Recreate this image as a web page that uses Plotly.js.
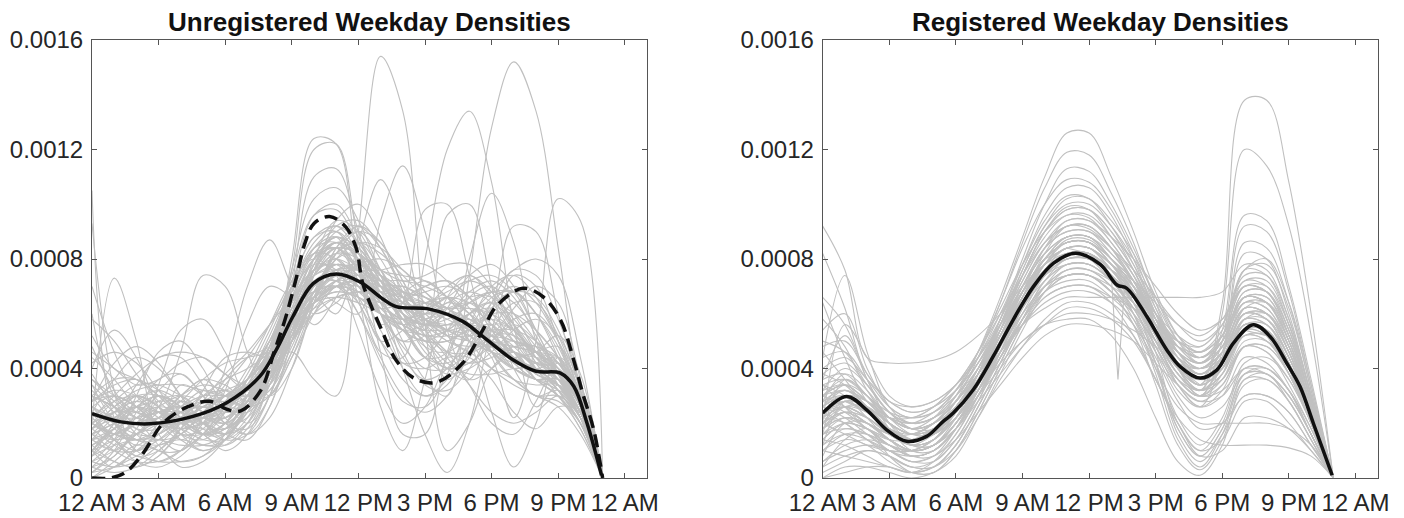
<!DOCTYPE html>
<html><head><meta charset="utf-8">
<script src="https://cdn.plot.ly/plotly-3.0.1.min.js"></script>
<style>html,body{margin:0;padding:0;background:#fff}#chart{width:1404px;height:518px}</style>
</head><body><div id="chart"></div>
<script>
// Time of day in hours
const hours = [0,1,2,3,4,5,6,7,8,9,10,11,12,13,14,15,16,17,18,19,20,21,22,23];
const tickHours = [0,3,6,9,12,15,18,21,24];
const tickLabels = ['12 AM','3 AM','6 AM','9 AM','12 PM','3 PM','6 PM','9 PM','12 AM'];
const yTicks = [0,0.0004,0.0008,0.0012,0.0016];
const yTickLabels = ['0','0.0004','0.0008','0.0012','0.0016'];
const UNIT = 1e-4; // density values below are in units of 1e-4

const titleLeft = 'Unregistered Weekday Densities';
const titleRight = 'Registered Weekday Densities';

// Unregistered: individual day densities (values at each hour, x1e-4)
const unregCurves = [
 [10.5,2.2,1.2,2.0,2.8,2.4,1.8,2.6,4.4,6.6,8.0,8.4,7.6,6.6,6.0,5.6,5.8,6.2,5.6,4.6,3.8,3.4,2.4,0],
 [9.3,3.2,1.0,1.8,3.4,3.0,2.0,2.2,3.6,5.6,7.4,8.0,7.2,6.8,7.0,6.4,5.2,4.6,5.0,5.6,5.0,4.0,2.6,0],
 [7.0,4.6,3.0,2.4,3.0,3.6,3.0,2.6,3.0,4.6,6.6,7.8,7.4,6.2,5.6,6.0,6.6,6.0,5.0,4.2,3.6,3.8,3.0,0],
 [6.0,3.0,2.4,3.2,3.8,3.0,2.0,1.6,2.6,5.0,7.6,8.6,8.0,6.6,5.4,5.0,5.4,5.8,5.2,4.2,3.6,3.6,2.6,0],
 [5.2,4.0,3.6,3.0,2.2,1.6,1.8,3.0,4.6,6.0,7.0,7.6,7.8,7.4,6.6,5.8,5.2,5.0,4.8,4.6,4.2,4.0,2.8,0],
 [2.0,7.3,5.0,1.6,1.0,2.0,3.0,3.4,4.0,5.0,6.0,7.0,7.0,6.6,6.8,7.2,6.6,5.6,4.6,4.0,4.2,4.4,3.0,0],
 [1.6,2.0,2.6,2.0,1.4,2.0,4.0,7.0,8.7,7.0,5.6,6.6,8.0,7.6,6.0,5.0,5.0,5.4,5.0,4.0,3.6,3.6,2.4,0],
 [3.0,2.6,2.0,2.6,4.6,7.4,7.0,4.6,3.0,4.0,6.4,8.4,9.0,8.0,6.6,5.6,5.0,4.6,4.0,3.6,3.0,3.0,2.2,0],
 [0.6,1.4,3.0,4.6,5.0,4.0,2.6,2.4,3.4,5.0,6.4,7.0,6.8,6.4,6.6,7.0,7.2,6.6,5.4,4.4,4.0,4.2,3.2,0],
 [1.0,0.4,1.2,3.4,5.4,5.8,4.6,3.0,3.0,4.4,6.0,7.2,7.4,6.8,6.2,6.0,6.4,6.8,6.4,5.2,4.0,3.2,2.0,0],
 [4.0,5.4,4.4,2.6,1.6,1.8,3.2,5.6,7.0,6.6,6.0,6.4,7.2,7.4,6.8,6.0,5.4,5.0,4.6,4.4,4.6,4.8,3.4,0],
 [2.4,3.6,4.4,4.0,3.0,2.0,1.6,2.6,4.8,7.0,8.2,8.0,7.0,6.0,5.6,5.8,6.2,6.4,6.0,5.0,4.0,3.4,2.4,0],
 [2.0,1.4,1.0,1.4,2.0,1.6,1.0,1.6,3.6,8.0,12.4,12.2,7.6,5.0,5.4,6.4,6.0,5.0,4.0,3.4,3.0,2.6,1.6,0],
 [1.0,2.0,3.0,2.6,1.6,1.0,1.4,2.6,4.0,7.6,12.0,12.2,8.6,6.0,5.0,5.6,6.4,6.0,4.6,3.6,3.0,2.8,2.0,0],
 [2.6,3.0,2.6,2.0,2.0,2.4,2.6,2.0,3.0,7.0,11.0,11.3,9.0,6.6,5.4,5.0,5.0,5.4,5.6,4.6,3.6,3.0,2.0,0],
 [1.4,1.0,1.6,2.4,2.6,2.0,1.6,2.4,4.4,7.6,10.2,10.6,9.4,7.6,6.4,6.0,6.0,5.6,4.8,4.0,3.6,3.2,2.2,0],
 [3.4,2.6,1.8,1.4,1.6,2.4,3.0,3.2,4.4,7.0,9.6,10.0,8.8,7.4,6.8,6.6,6.2,5.4,4.6,4.2,4.0,3.6,2.4,0],
 [0.4,0.8,1.8,2.8,3.0,2.4,2.0,2.8,4.6,7.4,9.6,9.8,8.6,7.6,7.4,7.2,6.6,5.6,4.6,4.0,3.6,3.2,2.2,0],
 [1.6,2.0,2.4,2.0,1.6,1.6,2.0,3.0,4.0,4.6,3.6,3.0,9.0,15.4,13.4,5.6,1.0,2.0,4.0,4.6,3.6,3.0,2.0,0],
 [2.0,1.6,2.0,3.0,2.6,1.6,2.0,3.6,5.0,6.0,6.6,7.0,7.4,6.6,5.0,3.6,3.0,7.4,12.8,15.2,13.4,8.4,3.0,0],
 [1.0,1.4,2.0,2.4,2.0,1.6,2.4,3.6,5.0,6.2,6.8,7.0,6.4,4.6,4.4,8.0,12.0,13.4,10.8,5.6,2.6,3.4,2.4,0],
 [2.4,2.0,1.6,1.6,2.2,2.8,3.0,3.4,4.4,5.6,6.4,6.8,6.6,6.0,5.8,6.0,6.0,5.2,4.4,2.2,5.0,10.2,9.4,0],
 [1.8,2.4,2.8,2.4,1.6,1.4,2.0,3.0,4.6,6.0,6.8,6.4,6.0,9.4,11.4,9.0,5.4,3.6,4.0,4.6,4.0,3.4,2.2,0],
 [3.0,2.6,2.0,2.0,2.4,2.6,2.4,2.6,3.8,5.6,6.6,6.0,8.6,10.9,9.0,5.6,3.6,4.4,5.6,5.4,4.4,3.8,2.6,0],
 [2.0,1.6,1.4,1.8,2.6,3.2,3.0,2.6,3.4,5.0,6.6,7.4,7.0,5.6,6.4,9.8,10.0,7.4,4.6,3.6,3.4,3.4,2.4,0],
 [1.2,1.8,2.6,3.0,2.6,2.0,1.8,2.6,4.2,6.0,7.0,7.2,6.6,6.0,5.4,4.4,4.6,8.0,10.4,8.6,5.0,3.4,2.2,0],
 [2.8,3.0,2.6,2.0,1.8,2.2,2.8,3.4,4.4,5.6,6.4,6.6,6.4,6.0,5.6,5.0,4.0,3.6,6.0,9.2,9.0,6.0,3.2,0],
 [2.2,1.6,1.4,1.6,2.2,2.8,3.2,3.6,4.6,5.8,6.8,7.4,7.6,7.2,6.0,5.4,9.6,10.0,7.0,4.0,3.0,3.2,2.4,0],
 [1.8,2.6,3.0,2.6,2.0,1.6,2.0,3.0,4.6,6.4,8.0,8.6,8.2,6.6,4.0,1.6,0.2,2.0,5.4,7.4,7.0,5.0,2.6,0],
 [2.6,2.0,1.4,1.2,1.6,2.4,3.4,4.4,5.6,7.0,8.4,8.8,6.6,2.6,1.0,3.6,6.6,7.4,6.6,5.4,4.6,4.0,2.6,0],
 [1.4,1.6,2.0,2.6,3.0,2.8,2.4,2.6,3.6,5.4,7.0,7.8,7.4,6.0,5.4,5.6,6.0,5.0,2.4,0.4,2.0,4.4,3.4,0],
 [0.6,1.0,1.6,2.2,2.4,2.0,1.6,2.0,3.4,5.6,7.6,8.4,7.6,4.6,1.6,1.6,4.6,6.6,7.0,6.0,4.6,3.6,2.2,0],
 [2.0,2.4,2.6,2.4,2.0,1.8,1.8,2.4,3.6,5.2,6.6,7.4,7.6,7.2,6.4,5.4,4.4,3.4,2.4,2.0,2.4,3.0,2.2,0],
 [0.2,0.4,0.8,1.2,1.4,1.2,1.2,2.0,3.8,6.0,7.6,8.0,7.6,7.0,6.8,6.6,6.2,5.6,5.0,4.4,4.0,3.6,2.4,0],
 [0.0,0.6,1.2,1.0,0.6,0.8,1.6,3.0,4.8,6.4,7.4,7.6,7.2,6.8,6.6,6.4,6.0,5.6,5.2,4.6,4.2,3.8,2.6,0],
 [1.0,0.6,0.4,0.8,1.6,2.0,1.6,1.4,2.6,5.0,7.0,7.4,6.8,6.2,6.4,7.0,7.2,6.6,5.4,4.4,3.8,3.4,2.2,0],
 [1.6,1.0,0.6,0.6,1.0,1.6,2.4,3.4,4.6,5.6,6.2,6.6,6.8,7.0,7.0,6.6,6.0,5.4,5.0,4.8,4.6,4.2,2.8,0],
 [0.8,1.8,2.0,1.2,0.4,0.6,1.4,2.6,4.0,5.4,6.6,7.2,7.4,7.2,6.6,5.8,5.4,5.6,5.8,5.4,4.4,3.4,2.2,0],
 [2.2,1.4,0.6,0.4,0.8,1.6,2.6,3.6,4.8,6.0,7.0,7.6,7.6,7.0,6.2,5.6,5.6,6.0,6.2,5.6,4.6,3.8,2.6,0],
 [3.0,2.6,2.2,2.0,2.2,2.6,3.0,3.6,4.6,6.0,7.2,7.6,7.4,6.8,6.4,6.2,6.0,5.6,5.0,4.4,4.0,3.8,2.6,0],
 [2.4,2.2,2.2,2.4,2.6,2.6,2.6,3.0,4.0,5.4,6.6,7.0,6.8,6.4,6.2,6.4,6.6,6.4,5.8,5.0,4.4,4.0,2.8,0],
 [1.8,2.2,2.6,2.8,2.8,2.6,2.6,3.2,4.4,6.2,8.0,8.6,8.0,6.8,5.8,5.4,5.4,5.2,4.6,4.0,3.6,3.4,2.4,0],
 [3.6,3.0,2.4,2.0,1.8,2.0,2.6,3.6,5.0,6.8,8.2,8.4,7.6,6.4,5.8,5.8,6.0,5.8,5.2,4.6,4.2,4.0,2.8,0],
 [2.8,3.4,3.6,3.2,2.6,2.2,2.2,2.8,3.8,5.0,6.2,7.0,7.2,7.0,6.6,6.2,5.8,5.4,5.2,5.0,4.6,4.0,2.6,0],
 [1.2,1.6,2.0,2.2,2.2,2.2,2.6,3.6,5.2,7.0,8.6,9.2,8.6,7.4,6.4,5.8,5.6,5.6,5.4,4.8,4.0,3.4,2.2,0],
 [2.0,2.8,3.4,3.4,3.0,2.4,2.2,2.8,4.2,6.4,8.4,9.0,8.2,7.0,6.6,6.8,7.0,6.6,5.6,4.6,3.8,3.4,2.2,0],
 [4.4,3.6,2.6,2.0,2.0,2.4,3.0,3.6,4.4,5.4,6.4,7.2,7.8,8.0,7.6,6.8,6.0,5.4,5.0,4.8,4.6,4.4,3.0,0],
 [2.6,1.8,1.4,1.6,2.2,3.0,3.6,4.0,4.6,5.8,7.4,8.4,8.2,7.4,6.8,6.4,6.2,6.2,6.0,5.4,4.6,3.8,2.4,0],
 [1.4,1.8,2.2,2.4,2.4,2.2,2.2,2.8,4.0,5.4,6.4,6.8,6.6,6.2,5.8,5.6,5.6,6.0,6.8,7.6,8.0,7.4,4.4,0],
 [3.2,2.4,1.8,1.8,2.4,3.0,3.2,3.0,3.4,4.8,6.8,8.2,8.6,8.2,7.4,6.6,6.2,6.4,6.8,6.8,6.0,4.8,2.8,0],
 [0.2,1.0,2.4,3.6,3.8,3.0,2.0,1.8,3.0,5.4,8.0,9.4,9.0,7.4,5.6,4.4,4.2,4.8,5.4,5.2,4.4,3.6,2.4,0],
 [4.6,4.0,3.4,3.6,4.2,4.4,3.8,3.2,3.6,5.0,6.6,7.4,6.6,5.0,3.6,3.0,3.6,5.0,6.4,7.0,6.4,5.0,3.0,0],
 [1.0,2.0,3.4,4.4,4.4,3.4,2.2,1.6,2.2,4.0,6.4,8.4,9.2,8.6,7.2,5.6,4.6,4.2,4.4,4.8,4.8,4.2,2.8,0],
 [3.8,2.6,1.6,1.0,1.0,1.6,2.6,3.8,5.4,7.2,8.8,9.2,8.2,6.4,4.6,3.4,3.2,4.0,5.4,6.4,6.4,5.2,3.0,0],
 [0.4,0.2,0.4,1.0,1.8,2.8,3.8,4.6,5.6,6.6,7.4,7.8,7.6,7.0,6.4,6.2,6.6,7.2,7.4,6.8,5.4,3.8,2.2,0],
 [2.8,4.2,4.8,4.2,3.0,2.0,1.4,1.6,3.0,5.4,7.8,8.8,8.0,6.0,4.0,3.0,3.4,4.8,6.2,6.8,6.0,4.4,2.6,0],
 [1.8,1.2,0.8,0.6,0.6,0.8,1.4,2.6,4.6,7.0,8.8,9.0,7.8,6.4,5.8,6.2,7.0,7.4,6.8,5.4,4.0,3.0,1.8,0],
 [5.8,5.0,3.8,2.8,2.2,2.0,2.4,3.4,5.0,6.8,7.8,7.6,6.4,5.0,4.2,4.4,5.4,6.4,6.8,6.4,5.4,4.4,2.8,0],
 [0.8,1.6,2.6,3.0,2.6,1.8,1.4,2.0,3.6,5.4,6.8,7.0,6.0,4.4,3.0,2.4,3.0,4.6,6.4,7.6,7.4,5.8,3.4,0],
 [2.2,3.0,3.8,4.4,4.6,4.4,3.8,3.4,3.8,5.0,6.4,7.2,7.0,6.0,4.8,4.0,4.0,4.6,5.2,5.2,4.6,3.8,2.4,0],
 [3.4,2.0,1.0,0.6,1.0,2.2,3.6,4.4,4.8,5.6,6.8,8.0,8.6,8.4,7.6,6.8,6.2,5.8,5.2,4.4,3.6,3.0,1.8,0],
 [1.2,0.6,0.4,0.8,1.8,3.2,4.4,4.6,4.4,5.0,6.6,8.2,9.0,8.6,7.2,5.8,5.0,4.8,4.8,4.6,4.2,3.6,2.4,0],
 [4.8,3.2,2.2,2.2,3.0,3.6,3.4,2.8,3.2,5.2,7.6,9.2,9.4,8.4,6.8,5.2,4.2,3.8,3.8,4.0,4.0,3.6,2.4,0],
 [0.2,0.8,1.6,2.0,1.8,1.4,1.4,2.2,3.8,5.8,7.6,8.4,8.2,7.6,7.2,7.4,7.8,7.8,7.0,5.6,4.2,3.2,2.0,0],
 [2.6,2.2,2.0,2.2,2.8,3.6,4.2,4.4,4.6,5.2,6.0,6.6,6.8,6.6,6.2,5.8,5.4,5.0,4.6,4.4,4.6,5.2,3.8,0],
 [1.6,2.4,3.0,3.0,2.4,1.6,1.2,1.8,3.4,5.6,7.6,8.6,8.4,7.2,5.8,4.8,4.6,5.2,6.2,6.8,6.6,5.4,3.2,0],
 [3.0,3.6,3.6,3.0,2.2,1.6,1.6,2.4,4.0,6.0,7.8,8.6,8.2,7.0,5.8,5.2,5.4,6.0,6.4,6.0,5.0,3.8,2.4,0],
 [0.6,0.4,0.6,1.2,2.0,2.6,3.0,3.6,4.6,6.0,7.4,8.2,8.0,7.0,5.6,4.4,3.8,4.0,4.6,5.4,5.8,5.2,3.2,0],
 [2.0,1.6,1.6,2.0,2.6,3.0,3.0,3.0,3.6,5.2,7.4,9.4,10.0,8.8,6.6,4.8,4.0,4.2,4.8,5.0,4.6,3.8,2.4,0],
 [1.4,2.2,2.6,2.2,1.4,1.0,1.4,2.8,4.8,6.6,7.6,7.8,7.6,7.6,7.8,7.8,7.2,6.2,5.2,4.6,4.4,4.2,2.8,0],
 [4.2,4.6,4.2,3.2,2.2,1.6,1.8,2.8,4.6,6.6,8.2,8.8,8.4,7.4,6.6,6.4,6.8,7.2,6.8,5.6,4.2,3.2,2.0,0],
 [0.0,0.4,1.0,1.6,2.0,2.2,2.4,3.0,4.2,6.0,7.8,9.0,9.2,8.4,7.0,5.8,5.2,5.2,5.4,5.4,5.0,4.2,2.6,0],
 [2.4,1.4,0.8,1.0,1.8,2.6,2.8,2.6,3.0,4.4,6.4,8.0,8.2,7.2,6.0,5.6,6.0,6.8,7.2,6.6,5.2,3.8,2.4,0],
 [1.8,2.6,3.2,3.4,3.4,3.2,3.0,3.2,4.0,5.4,6.8,7.4,7.2,6.4,5.6,5.2,5.2,5.6,6.0,6.0,5.4,4.4,2.8,0],
 [3.6,2.8,2.2,2.0,2.0,2.2,2.6,3.2,4.2,5.8,7.4,8.2,7.6,6.0,4.4,3.6,4.0,5.4,6.6,6.8,6.0,4.6,2.6,0],
 [0.8,1.2,1.4,1.4,1.2,1.2,1.6,2.6,4.2,6.2,8.0,8.8,8.4,7.2,6.0,5.6,6.0,6.6,6.6,5.8,4.8,3.8,2.4,0],
 [2.2,2.8,3.0,2.6,1.8,1.2,1.4,2.6,4.6,6.8,8.4,8.6,7.6,6.0,5.0,5.2,6.2,7.4,7.8,7.0,5.4,3.8,2.2,0],
 [1.0,1.8,2.8,3.2,2.8,2.2,2.0,2.6,3.8,5.2,6.4,7.0,7.2,7.2,7.2,7.0,6.6,6.0,5.4,5.0,4.8,4.4,2.8,0],
 [3.0,2.0,1.4,1.4,2.0,2.6,3.0,3.2,3.8,5.0,6.6,7.6,7.8,7.2,6.2,5.2,4.6,4.6,5.2,6.2,7.0,6.4,3.6,0],
 [1.6,1.4,1.6,2.2,3.0,3.4,3.2,2.8,3.2,4.6,6.6,8.2,8.6,7.6,6.0,4.6,4.0,4.2,5.0,5.8,6.0,5.0,3.0,0],
 [2.0,2.4,2.4,2.0,1.8,2.0,2.8,4.0,5.6,7.2,8.0,7.4,5.4,3.2,2.0,2.6,4.4,6.0,6.4,5.6,4.4,3.6,2.4,0],
 [1.4,1.0,1.0,1.6,2.4,2.8,2.6,2.6,3.8,6.0,8.0,8.4,7.2,5.4,4.2,4.0,4.4,4.4,3.6,2.4,1.8,2.6,2.4,0],
 [2.8,3.2,3.0,2.4,2.0,2.2,2.6,3.2,4.4,6.0,7.2,7.2,6.0,4.2,2.8,2.6,3.8,5.6,7.0,7.4,6.6,5.0,2.8,0],
 [0.4,1.2,2.2,2.6,2.4,2.0,2.2,3.0,4.6,6.4,7.6,7.8,7.0,6.0,5.4,5.2,4.6,3.4,2.0,1.6,2.8,4.2,3.0,0]
];

// Unregistered: mean (solid) and dashed summary curve
const unregMeanX = [0,1.3,2.6,4.55,6.07,7.55,8.3,9.05,9.96,11.0,12.1,13.0,13.7,15.2,16.7,17.6,18.96,20.0,21.1,21.7,22.3,22.95];
const unregMeanY = [2.35,2.05,1.98,2.25,2.75,3.7,4.68,5.9,7.1,7.45,7.15,6.6,6.26,6.17,5.72,5.17,4.32,3.9,3.83,3.35,2.0,0.1];
const unregDashX = [0,0.8,1.5,2.3,3.2,4.3,5.3,6.1,6.7,7.6,8.2,8.7,9.2,9.6,10.0,10.7,11.4,11.9,12.2,13.0,13.7,14.5,15.5,16.7,17.6,18.2,19.4,20.3,21.1,21.7,22.1,22.6,23.0];
const unregDashY = [0,0,0.2,0.9,2.0,2.6,2.8,2.5,2.45,3.2,4.6,5.8,7.3,8.6,9.3,9.55,9.2,8.4,7.1,5.5,4.3,3.65,3.49,4.2,5.4,6.26,6.93,6.63,5.78,4.3,3.1,1.76,0];

// Registered: individual day densities (values at each hour, x1e-4)
const regCurves = [
 [3.0,3.4,2.8,2.0,1.6,2.0,3.0,4.6,6.6,8.8,11.0,12.6,12.6,11.0,9.0,6.8,5.2,4.4,5.0,6.4,6.2,4.8,2.6,0],
 [2.0,2.6,2.4,1.8,1.4,1.8,2.8,4.4,6.4,8.6,10.6,11.9,11.8,10.4,8.6,6.4,4.6,3.8,4.4,5.8,5.6,4.4,2.4,0],
 [1.6,2.2,2.0,1.4,1.0,1.2,2.2,3.8,5.8,8.0,10.0,11.3,11.2,10.0,8.4,6.6,5.0,4.2,4.8,6.2,6.0,4.6,2.4,0],
 [3.6,3.8,3.0,2.2,1.8,2.2,3.2,4.6,6.4,8.4,10.0,10.9,10.8,9.8,8.2,6.2,4.6,4.0,4.6,6.0,5.8,4.4,2.4,0],
 [2.6,3.2,2.8,2.2,2.0,2.4,3.2,4.4,6.0,7.8,9.4,10.3,10.2,9.2,7.8,6.0,4.4,3.6,4.0,5.2,5.0,3.8,2.0,0],
 [1.2,1.8,1.6,1.0,0.6,0.8,1.8,3.4,5.4,7.4,9.0,9.9,9.8,8.8,7.6,6.0,4.6,4.0,4.6,6.0,5.8,4.4,2.4,0],
 [4.4,4.6,3.6,2.6,2.2,2.6,3.4,4.6,6.2,7.8,9.0,9.6,9.5,8.6,7.4,5.6,4.0,3.2,3.6,4.8,4.6,3.6,2.0,0],
 [2.2,2.6,2.2,1.6,1.2,1.6,2.4,3.6,5.2,7.0,8.4,9.2,9.1,8.4,7.6,6.6,5.6,5.0,5.6,7.0,6.8,5.2,2.8,0],
 [0.6,1.0,1.2,1.0,0.6,0.6,1.4,2.8,4.6,6.4,7.8,8.7,8.7,8.0,7.2,5.8,4.4,3.8,4.4,6.0,6.0,4.6,2.4,0],
 [3.0,3.6,3.0,2.0,1.4,1.6,2.4,3.6,5.2,6.8,8.0,8.6,8.6,7.8,6.8,4.6,2.0,1.0,2.0,4.0,4.0,3.2,1.6,0],
 [2.8,3.0,2.4,1.8,1.6,2.0,2.8,3.8,5.2,6.6,7.8,8.4,8.4,7.8,7.2,6.4,5.6,5.2,5.8,7.2,7.0,5.4,2.8,0],
 [1.8,2.4,2.2,1.6,1.2,1.4,2.2,3.4,4.8,6.4,7.6,8.2,8.2,7.4,6.0,3.8,1.4,0.4,1.6,3.6,3.6,2.8,1.4,0],
 [2.4,2.8,2.4,1.8,1.4,1.6,2.2,3.2,4.6,6.2,7.4,8.0,8.0,7.4,6.6,5.4,4.4,4.0,4.8,6.6,6.6,5.2,2.8,0],
 [3.4,3.6,3.0,2.4,2.2,2.4,3.0,4.0,5.2,6.4,7.4,7.8,7.8,7.2,6.4,5.2,4.0,3.6,4.2,5.6,5.4,4.2,2.2,0],
 [1.0,1.6,1.6,1.2,0.8,1.0,1.8,3.0,4.4,5.8,7.0,7.6,7.6,7.0,5.8,4.0,1.8,0.8,1.8,3.8,3.8,3.0,1.6,0],
 [2.0,2.4,2.0,1.4,1.0,1.2,2.0,3.2,4.6,6.0,7.0,7.4,7.4,6.8,6.2,5.4,4.8,4.6,5.4,7.2,7.2,5.6,3.0,0],
 [2.6,3.0,2.6,2.0,1.6,1.8,2.4,3.4,4.6,5.8,6.8,7.2,7.2,6.6,5.8,4.4,2.8,1.8,2.0,3.0,3.0,2.4,1.2,0],
 [1.4,2.0,1.8,1.2,0.8,1.0,1.8,3.0,4.4,5.6,6.6,7.0,7.0,6.6,6.2,5.4,4.6,4.2,5.0,6.8,6.8,5.4,2.8,0],
 [3.0,3.2,2.8,2.2,1.8,2.0,2.6,3.6,4.6,5.6,6.4,6.8,6.8,6.4,5.6,4.2,2.2,1.2,2.2,4.2,4.4,3.6,2.0,0],
 [2.2,2.6,2.2,1.6,1.2,1.4,2.2,3.4,4.6,5.6,6.2,6.6,6.6,6.6,6.6,6.6,6.6,6.6,6.8,7.8,7.6,5.8,3.0,0],
 [0.4,0.8,1.0,0.8,0.4,0.4,1.0,2.2,3.6,4.8,5.8,6.4,6.4,6.0,5.2,3.6,2.0,1.0,1.4,2.8,2.8,2.0,1.0,0],
 [1.6,2.0,1.8,1.4,1.0,1.2,1.8,2.8,3.8,4.8,5.6,6.2,6.2,5.8,5.0,3.6,2.0,0.8,1.0,2.2,2.2,1.8,1.0,0],
 [2.8,3.2,2.6,1.8,1.4,1.6,2.2,3.2,4.2,5.0,5.6,6.0,6.0,5.8,5.4,4.8,4.2,4.0,4.6,6.0,6.0,4.8,2.6,0],
 [1.2,1.6,1.4,1.0,0.6,0.8,1.4,2.4,3.4,4.4,5.2,5.6,5.6,5.4,5.0,4.2,3.4,2.8,3.0,4.0,4.0,3.2,1.6,0],
 [2.0,2.4,2.0,1.4,1.0,1.2,2.0,3.0,4.0,5.0,5.6,5.8,5.8,5.2,4.0,2.2,0.6,0.1,1.2,3.6,3.8,2.8,1.4,0],
 [1.8,2.2,1.8,1.2,0.8,1.0,1.8,3.0,4.4,5.6,6.6,7.0,7.0,6.4,5.2,3.6,2.2,1.4,1.2,1.2,1.2,1.1,0.8,0],
 [2.4,2.6,2.2,1.6,1.2,1.4,2.2,3.4,4.8,6.0,7.0,7.4,7.4,6.8,5.6,4.0,2.6,2.0,2.0,2.0,2.0,1.8,1.2,0],
 [2.6,3.0,2.6,1.8,1.4,1.8,2.6,3.8,5.4,7.0,8.2,8.8,8.8,8.0,7.0,5.6,4.2,3.4,6.4,13.8,13.8,10.8,6.0,0],
 [1.8,2.4,2.2,1.6,1.2,1.4,2.2,3.4,5.0,6.6,8.0,8.6,8.6,7.8,6.8,5.4,4.0,3.2,6.0,12.0,11.4,9.2,5.2,0],
 [3.2,3.4,2.8,2.0,1.6,2.0,2.8,4.0,5.6,7.2,8.6,9.2,9.2,8.4,7.2,5.6,4.2,3.6,5.4,9.6,9.4,7.0,3.6,0],
 [2.4,2.8,2.4,1.8,1.4,1.6,2.4,3.6,5.0,6.6,7.8,8.4,8.4,7.6,6.6,5.2,3.8,3.2,5.0,9.2,9.0,6.8,3.4,0],
 [1.4,2.0,1.8,1.4,1.0,1.2,2.0,3.2,4.8,6.4,7.8,8.4,8.4,7.6,6.4,4.8,3.2,2.6,4.4,8.6,8.4,6.4,3.2,0],
 [2.0,2.4,2.0,1.4,1.0,1.2,2.0,3.2,4.6,6.2,7.6,8.2,8.2,7.4,6.4,5.0,3.6,3.0,4.6,8.2,8.0,6.0,3.0,0],
 [3.0,3.4,2.8,2.0,1.6,1.8,2.6,3.8,5.2,6.8,8.0,8.6,8.6,7.8,6.6,5.0,3.6,3.0,4.4,7.6,7.4,5.6,2.8,0],
 [9.2,7.6,4.4,4.2,4.2,4.3,4.6,5.2,6.0,7.0,7.8,8.2,8.0,7.2,6.2,4.8,3.6,3.2,4.0,5.6,5.4,4.0,2.0,0],
 [4.4,7.4,4.6,2.6,2.0,2.2,3.0,4.2,5.6,7.0,8.2,8.8,8.8,8.0,7.0,5.6,4.4,3.8,4.6,6.2,6.0,4.6,2.4,0],
 [8.2,6.2,3.6,2.4,2.0,2.2,2.8,3.8,5.0,6.4,7.6,8.2,8.2,7.6,6.8,5.6,4.4,3.8,4.4,5.8,5.6,4.2,2.2,0],
 [6.6,5.6,3.8,2.8,2.6,2.8,3.4,4.4,5.6,7.0,8.2,8.8,8.8,8.0,7.0,5.6,4.2,3.6,4.2,5.6,5.4,4.0,2.0,0],
 [2.0,5.6,4.4,3.0,2.6,2.8,3.4,4.4,5.6,6.8,7.8,8.4,8.4,7.6,6.6,5.2,4.0,3.4,4.0,5.4,5.2,4.0,2.0,0],
 [0.0,0.4,0.4,0.2,0.0,0.2,0.8,2.2,3.8,5.4,6.8,7.6,7.6,7.0,6.0,4.6,3.4,2.8,3.4,4.8,4.6,3.4,1.8,0],
 [0.4,1.4,1.8,0.8,0.2,0.2,1.0,2.4,4.0,5.6,7.0,7.8,7.8,7.2,6.2,4.8,3.4,2.6,3.0,4.4,4.2,3.2,1.6,0],
 [5.0,4.6,3.4,2.4,2.0,2.2,2.8,3.8,5.0,6.4,7.4,8.0,8.0,7.4,6.6,5.4,4.2,3.6,4.4,6.0,5.8,4.4,2.4,0],
 [1.0,0.8,0.6,0.4,0.2,0.6,1.6,3.0,4.6,6.2,7.6,8.4,8.4,7.8,6.8,5.4,4.0,3.4,4.0,5.6,5.4,4.0,2.0,0],
 [3.8,4.2,3.4,2.4,1.8,2.0,2.6,3.6,5.0,6.4,7.6,8.2,8.2,7.6,6.8,5.8,4.8,4.4,5.2,7.0,7.0,5.6,3.0,0],
 [2.6,3.4,3.0,2.2,1.8,2.0,2.8,4.0,5.4,7.0,8.4,9.0,9.0,8.2,7.2,5.8,4.6,4.2,5.0,6.6,6.4,5.0,2.6,0],
 [1.8,2.6,2.6,2.0,1.6,1.8,2.6,3.8,5.2,6.8,8.0,8.6,8.6,7.8,6.8,5.4,4.0,3.4,4.0,5.4,5.2,3.8,2.0,0],
 [5.4,6.0,4.0,2.6,2.2,2.4,3.2,4.4,5.8,7.4,8.8,9.6,9.6,8.8,7.6,6.0,4.6,4.0,4.8,6.6,6.6,5.0,2.6,0],
 [6.4,4.4,2.8,2.2,2.0,2.2,3.0,4.2,5.8,7.6,9.2,10.0,10.0,9.2,8.0,6.4,5.0,4.4,5.2,7.0,6.8,5.2,2.8,0],
 [0.2,0.6,1.0,0.8,0.4,0.4,1.2,2.6,4.2,5.8,7.2,7.8,7.8,7.2,6.2,4.6,3.0,2.2,2.6,3.8,3.8,3.0,1.6,0],
 [3.6,5.2,3.6,2.0,1.2,1.2,2.0,3.4,5.0,6.8,8.4,9.4,9.4,8.6,7.4,5.8,4.2,3.4,4.0,5.6,5.6,4.4,2.4,0],
 [1.6,3.6,3.0,1.8,1.0,1.0,1.8,3.2,4.8,6.4,7.6,8.2,8.2,7.6,6.8,5.8,5.0,4.6,5.2,6.6,6.4,5.0,2.6,0],
 [4.0,4.4,3.6,2.8,2.4,2.6,3.2,4.2,5.6,7.2,8.6,9.4,9.4,8.8,8.0,7.0,6.0,5.4,5.8,7.0,6.8,5.2,2.6,0],
 [2.2,2.0,1.4,0.8,0.4,0.6,1.4,2.8,4.4,6.0,7.4,8.2,8.2,7.6,6.4,4.2,1.6,0.6,1.6,3.0,3.0,2.4,1.2,0],
 [3.2,4.0,3.4,2.4,1.8,1.8,2.6,4.0,5.8,7.8,9.6,10.6,10.6,9.6,8.0,6.0,4.4,3.8,4.6,6.4,6.4,5.0,2.6,0],
 [0.8,2.0,2.0,1.4,0.8,0.8,1.6,3.0,4.6,6.2,7.4,8.0,8.0,7.4,6.4,5.0,3.6,3.0,3.6,5.2,5.2,4.0,2.2,0],
 [2.8,2.4,1.8,1.2,1.0,1.4,2.4,3.8,5.4,7.0,8.4,9.0,9.0,8.4,7.4,6.0,4.8,4.2,5.0,6.8,6.8,5.4,2.8,0],
 [1.4,1.2,0.8,0.4,0.2,0.4,1.2,2.6,4.2,5.8,7.0,7.6,7.6,7.2,6.6,5.6,4.8,4.4,5.0,6.4,6.2,4.8,2.4,0],
 [4.8,5.0,3.8,2.8,2.4,2.6,3.2,4.2,5.4,6.8,8.0,8.6,8.6,8.0,7.2,6.0,5.0,4.6,5.2,6.6,6.4,5.0,2.6,0],
 [2.2,3.0,2.8,2.2,1.8,2.0,2.8,4.0,5.6,7.4,9.0,9.8,9.8,9.0,7.6,5.8,4.0,3.0,3.4,4.8,4.8,3.8,2.0,0],
 [3.4,3.0,2.2,1.4,1.0,1.2,2.0,3.4,5.0,6.6,7.8,8.4,8.4,7.8,7.0,5.8,4.6,4.0,4.4,5.6,5.4,4.2,2.2,0],
 [0.6,1.2,1.4,1.2,0.8,1.0,1.8,3.2,4.8,6.4,7.8,8.6,8.6,7.8,6.6,5.0,3.6,3.0,3.8,5.8,6.0,4.8,2.6,0],
 [2.0,2.8,2.6,2.0,1.6,1.8,2.6,3.8,5.2,6.6,7.6,8.0,8.0,7.6,7.0,6.0,5.2,4.8,5.6,7.6,7.8,6.2,3.2,0],
 [1.0,1.4,1.2,0.6,0.2,0.2,1.0,2.4,4.0,5.6,6.8,7.4,7.4,6.8,5.6,3.4,1.2,0.3,1.4,3.4,3.6,2.8,1.4,0],
 [3.8,3.4,2.6,1.8,1.4,1.6,2.4,3.8,5.6,7.6,9.2,10.2,10.2,9.4,8.2,6.6,5.2,4.6,5.2,6.6,6.4,4.8,2.4,0],
 [2.6,2.2,1.6,1.0,0.8,1.0,1.8,3.0,4.4,5.8,6.8,7.4,7.4,7.0,6.4,5.6,5.0,4.8,5.6,7.4,7.4,5.8,3.0,0],
 [1.8,2.2,2.0,1.6,1.4,1.6,2.4,3.6,5.0,6.4,7.6,8.2,8.2,7.6,6.6,5.2,3.8,3.0,3.2,4.0,3.8,3.0,1.6,0],
 [3.0,2.6,2.0,1.6,1.6,2.0,2.8,4.0,5.4,6.8,8.0,8.8,8.8,8.2,7.2,5.6,4.0,3.2,3.6,5.0,5.0,4.0,2.2,0],
 [5.8,4.8,3.2,2.2,1.8,2.0,2.8,4.0,5.4,6.8,7.8,8.4,8.4,7.8,6.8,5.4,4.2,3.6,4.2,5.6,5.4,4.2,2.2,0],
 [2.4,2.0,1.4,1.0,1.0,1.4,2.4,3.8,5.6,7.4,9.0,9.8,9.8,9.0,7.8,6.2,4.8,4.2,4.8,6.2,6.0,4.6,2.4,0],
 [1.2,2.8,2.6,1.8,1.2,1.2,2.0,3.4,5.0,6.6,8.0,8.8,8.8,8.0,6.8,5.2,3.8,3.2,3.8,5.2,5.0,3.8,2.0,0],
 [0.0,0.2,0.4,0.4,0.2,0.4,1.2,2.6,4.2,5.8,7.2,8.0,8.0,7.4,6.4,5.0,3.8,3.2,3.8,5.4,5.4,4.2,2.2,0],
 [4.6,3.6,2.6,2.2,2.2,2.6,3.4,4.6,6.0,7.4,8.6,9.2,9.2,8.4,7.2,5.6,4.2,3.6,4.2,5.8,5.8,4.6,2.4,0],
 [2.8,3.8,3.2,2.2,1.6,1.6,2.2,3.2,4.4,5.8,6.8,7.4,7.4,6.8,6.0,5.0,4.2,3.8,4.4,6.2,6.4,5.2,2.8,0],
 [1.6,1.8,1.6,1.2,1.0,1.2,2.0,3.2,4.8,6.6,8.2,9.2,9.2,8.4,7.0,5.2,3.4,2.6,3.2,4.8,4.8,3.8,2.0,0],
 [3.4,2.6,1.8,1.4,1.4,1.8,2.6,3.8,5.2,6.8,8.0,8.6,8.6,8.0,7.0,5.8,4.6,4.2,5.2,7.6,8.0,6.4,3.4,0],
 [2.0,1.6,1.2,1.0,1.0,1.4,2.2,3.4,4.8,6.2,7.2,7.8,7.8,7.2,6.0,4.2,1.8,0.8,1.8,3.8,4.0,3.2,1.8,0]
];
// One registered day with a short dip just after 1 PM
const regDipX = [0,1,2,3,4,5,6,7,8,9,10,11,12,13,13.3,13.6,14,15,16,17,18,19,20,21,22,23];
const regDipY = [2.4,2.8,2.4,1.8,1.4,1.6,2.4,3.6,5.2,6.8,8.0,8.4,8.2,7.4,3.6,7.0,6.6,5.2,4.0,3.4,4.0,5.4,5.2,4.0,2.0,0];

// Registered: mean curve
const regMeanX = [0,1.08,1.98,2.88,3.78,4.68,5.43,5.88,6.78,7.68,8.58,9.49,10.4,11.4,12.5,13.26,13.7,14.6,15.5,16.1,17.0,17.76,18.5,19.4,20.15,20.9,21.5,22.1,22.95];
const regMeanY = [2.37,2.98,2.49,1.76,1.34,1.52,2.07,2.37,3.22,4.44,5.78,6.99,7.85,8.21,7.8,7.05,6.93,5.9,4.68,4.07,3.65,3.95,4.93,5.6,5.17,4.2,3.34,2.0,0.1];

const GRAY = '#c0c0c0';
const INK = '#262626';
const scale = a => a.map(v => v * UNIT);
const traces = [];
function gray(xs, ys, ax, shape) {
  traces.push({type:'scatter', mode:'lines', x: xs, y: scale(ys), xaxis: ax[0], yaxis: ax[1],
    line:{color: GRAY, width: 1.1, shape: shape || 'spline', smoothing: 1}, hoverinfo:'skip', showlegend:false});
}
unregCurves.forEach(c => gray(hours, c, ['x','y']));
regCurves.forEach(c => gray(hours, c, ['x2','y2']));
gray(regDipX, regDipY, ['x2','y2'], 'linear');

traces.push({type:'scatter', mode:'lines', x: unregMeanX, y: scale(unregMeanY), xaxis:'x', yaxis:'y',
  line:{color:'#111', width:3.5, shape:'spline', smoothing:1}, showlegend:false});
traces.push({type:'scatter', mode:'lines', x: unregDashX, y: scale(unregDashY), xaxis:'x', yaxis:'y',
  line:{color:'#111', width:3.5, shape:'spline', smoothing:1, dash:'13px,7px'}, showlegend:false});
traces.push({type:'scatter', mode:'lines', x: regMeanX, y: scale(regMeanY), xaxis:'x2', yaxis:'y2',
  line:{color:'#111', width:3.5, shape:'spline', smoothing:1}, showlegend:false});

const W = 1404;
const FONT = 'Liberation Sans, Arial, Helvetica, sans-serif';
function xax(domain, anchor) {
  return {domain: domain, anchor: anchor, range:[0,25], tickmode:'array', tickvals: tickHours, ticktext: tickLabels,
    tickangle: 0, ticks:'inside', ticklen:5, tickwidth:1, tickcolor:'#555', showline:true, linecolor:'#555', linewidth:1,
    mirror:'ticks', showgrid:false, zeroline:false, tickfont:{size:24, color:INK, family:FONT}, ticklabelstandoff: 3, fixedrange:true};
}
function yax(anchor) {
  return {anchor: anchor, domain:[0,1], range:[0,0.0016], tickmode:'array', tickvals: yTicks, ticktext: yTickLabels,
    ticks:'inside', ticklen:5, tickwidth:1, tickcolor:'#555', showline:true, linecolor:'#555', linewidth:1,
    mirror:'ticks', showgrid:false, zeroline:false, tickfont:{size:24, color:INK, family:FONT}, ticklabelstandoff: 3, fixedrange:true};
}
const d1 = [92/W, 647/W], d2 = [822.7/W, 1377.7/W];
const layout = {
  width: 1404, height: 518, margin:{l:0, r:0, t:40, b:40},
  paper_bgcolor:'#fff', plot_bgcolor:'#fff', showlegend:false,
  font:{family: FONT, color: INK},
  xaxis: xax(d1, 'y'), yaxis: yax('x'),
  xaxis2: xax(d2, 'y2'), yaxis2: yax('x2'),
  annotations: [
    {text: '<b>' + titleLeft + '</b>', xref:'paper', yref:'paper', x:(d1[0]+d1[1])/2, y:1, xanchor:'center', yanchor:'middle', yshift:18, showarrow:false, font:{size:26, color:'#111', family:FONT}},
    {text: '<b>' + titleRight + '</b>', xref:'paper', yref:'paper', x:(d2[0]+d2[1])/2, y:1, xanchor:'center', yanchor:'middle', yshift:18, showarrow:false, font:{size:26, color:'#111', family:FONT}}
  ]
};
Plotly.newPlot('chart', traces, layout, {staticPlot:true, displayModeBar:false});
</script>
</body></html>
